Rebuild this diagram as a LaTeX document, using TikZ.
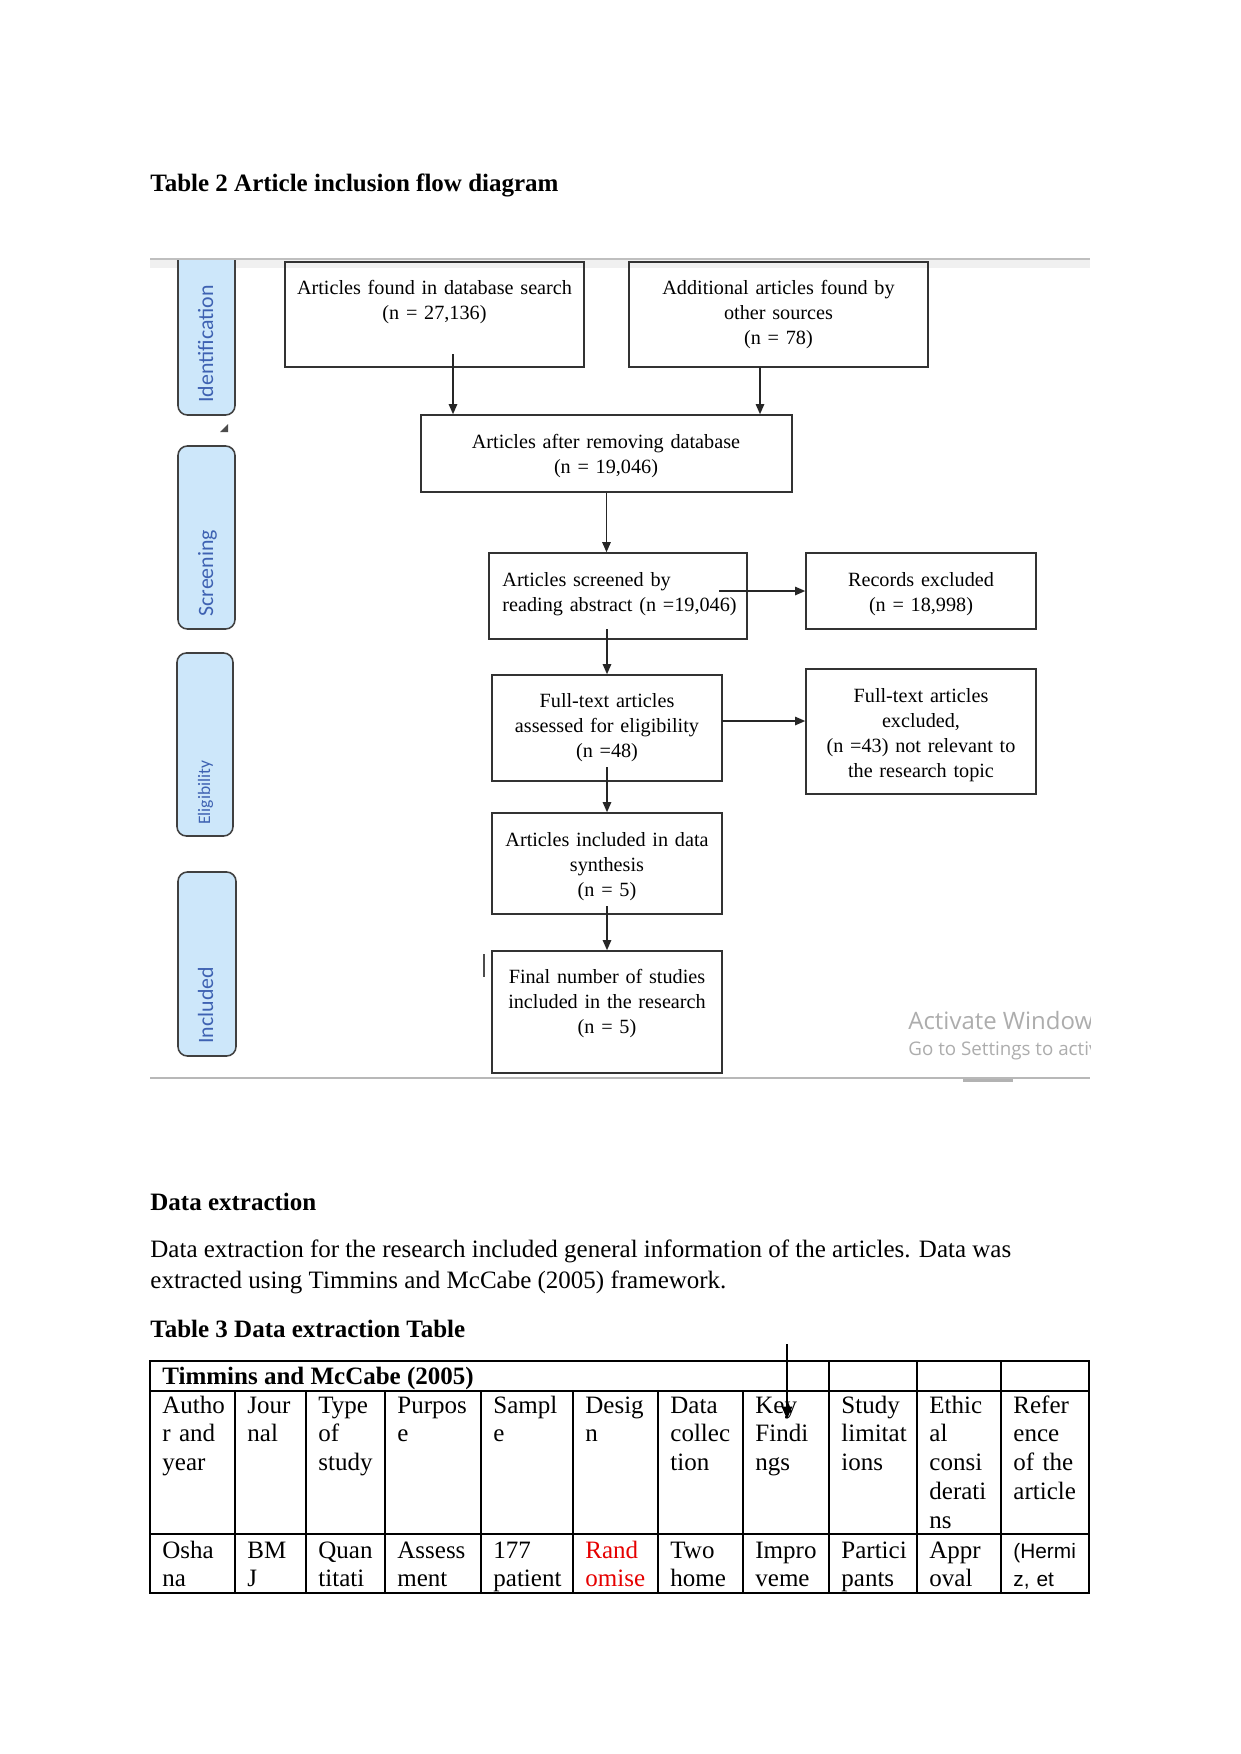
\documentclass[tikz,border=0pt]{standalone}
\usepackage{fontspec}
\setmainfont{Liberation Serif}
\newfontfamily\lanefont{Carlito}
\newfontfamily\winfont{Open Sans}
\newfontfamily\arialfont{Liberation Sans}
\usetikzlibrary{arrows.meta,fit,calc}
\definecolor{lanefill}{RGB}{205,231,250}
\definecolor{lanetext}{RGB}{62,98,178}
\definecolor{laneline}{RGB}{64,64,64}
\definecolor{boxline}{RGB}{50,50,50}
\definecolor{redtxt}{RGB}{230,0,0}
\begin{document}
\begin{tikzpicture}[x=0.48pt,y=-0.48pt,
  box/.style={draw=boxline, line width=0.75pt, inner sep=0pt},
  btxt/.style={font=\fontsize{9.7pt}{12.1pt}\selectfont, inner sep=0pt, text width=150pt, align=center, anchor=base},
  lane/.style={draw=laneline, line width=0.75pt, fill=lanefill, rounded corners=4.5pt, inner sep=0pt},
  lanetxt/.style={font=\lanefont\fontsize{10.5pt}{12pt}\selectfont, text=lanetext, rotate=90, anchor=base west, inner sep=0pt},
  arr/.style={draw=black!85, line width=0.7pt, -{Triangle[length=4.8pt,width=4pt]}},
  tl/.style={line width=0.7pt},
  ctxt/.style={font=\fontsize{12pt}{13.8pt}\selectfont, inner sep=0pt, anchor=base west, text width=60pt, align=left},
  ptxt/.style={font=\fontsize{12pt}{14pt}\selectfont, inner sep=0pt, anchor=base west},
  wtxt/.style={font=\winfont, text=black!32, inner sep=0pt, anchor=base west},
]
\useasboundingbox[fill=white] (0,0) rectangle (1241,1754);

% ---- heading
\node[ptxt, font=\fontsize{12pt}{14pt}\selectfont\bfseries] (title) at (150,191) {Table 2 Article inclusion flow diagram};

% ---- screenshot frame lines
\fill[black!6] (150,260) rectangle (1090,268);
\draw[black!25, line width=0.9pt] (150,259) -- (1090,259);
\draw[black!28, line width=0.9pt] (150,1078) -- (1090,1078);
\fill[black!30] (963,1079) rectangle (1013,1082);

% ---- lanes
\begin{scope}
  \clip (150,260) rectangle (300,430);
  \node[lane, fit={(178,230) (235,415)}] (lid) {};
\end{scope}
\node[lane, fit={(178,446) (235,629)}] (lscr) {};
\node[lane, fit={(177,653) (233,836)}] (lel) {};
\node[lane, fit={(178,872) (236,1056)}] (linc) {};
\node[lanetxt] (tid) at (213,403) {Identification};
\node[lanetxt] (tscr) at (213,617) {Screening};
\node[lanetxt, font=\lanefont\fontsize{8.4pt}{10pt}\selectfont] (tel) at (210,825) {Eligibility};
\node[lanetxt] (tinc) at (213,1044) {Included};
\fill[black!70] (228,424) -- (228,432) -- (220,432) -- cycle;

% ---- boxes
\node[box, fit={(285,262) (584,367)}] (b1) {};
\node[box, fit={(629,262) (928,367)}] (b2) {};
\node[box, fit={(421,415) (792,492)}] (b3) {};
\node[box, fit={(489,553) (747,639)}] (b4) {};
\node[box, fit={(806,553) (1036,629)}] (brec) {};
\node[box, fit={(492,675) (722,781)}] (b5) {};
\node[box, fit={(806,669) (1036,794)}] (bexc) {};
\node[box, fit={(492,813) (722,914)}] (b6) {};
\node[box, fit={(492,951) (722,1073)}] (b7) {};

\node[btxt] (t1) at (434.5,294) {Articles found in database search\\(n = 27,136)};
\node[btxt] (t2) at (778.5,294) {Additional articles found by\\other sources\\(n = 78)};
\node[btxt] (t3) at (606,448) {Articles after removing database\\(n = 19,046)};
\node[btxt, anchor=base west, align=left] (t4) at (502,586) {Articles screened by\\reading abstract (n =19,046)};
\node[btxt] (trec) at (921,586) {Records excluded\\(n = 18,998)};
\node[btxt] (t5) at (607,707) {Full-text articles\\assessed for eligibility\\(n =48)};
\node[btxt] (texc) at (921,702) {Full-text articles\\excluded,\\(n =43) not relevant to\\the research topic};
\node[btxt] (t6) at (607,846) {Articles included in data\\synthesis\\(n = 5)};
\node[btxt] (t7) at (607,983) {Final number of studies\\included in the research\\(n = 5)};

% ---- connectors
\coordinate (a1s) at (453,354);
\draw[arr] (a1s) -- (a1s |- b3.north);
\coordinate (a2s) at (760,367);
\draw[arr] (a2s) -- (a2s |- b3.north);
\draw[arr] (b3.south) -- (b3.south |- b4.north);
\coordinate (a4s) at (607,629);
\draw[arr] (a4s) -- (a4s |- b5.north);
\coordinate (a5s) at (719,591);
\draw[arr] (a5s) -- (a5s -| brec.west);
\coordinate (a6s) at (722,721);
\draw[arr] (a6s) -- (a6s -| bexc.west);
\coordinate (a7s) at (607,767);
\draw[arr] (a7s) -- (a7s |- b6.north);
\coordinate (a8s) at (607,906);
\draw[arr] (a8s) -- (a8s |- b7.north);

% text cursor
\draw[black!70, line width=0.5pt] (484,954) -- (484,977);

% watermark
\begin{scope}
  \clip (850,990) rectangle (1090,1070);
  \node[wtxt, font=\winfont\fontsize{11.5pt}{13pt}\selectfont] (w1) at (908,1029) {Activate Windows};
  \node[wtxt, font=\winfont\fontsize{9pt}{11pt}\selectfont] (w2) at (908,1055) {Go to Settings to activate Windows.};
\end{scope}

% ---- body text
\node[ptxt, font=\fontsize{12pt}{14pt}\selectfont\bfseries] (h2) at (150,1210) {Data extraction};
\node[ptxt] (p1) at (150,1257) {Data extraction for the research included general information of the articles. Data was};
\node[ptxt] (p2) at (150,1288) {extracted using Timmins and McCabe (2005) framework.};
\node[ptxt, font=\fontsize{12pt}{14pt}\selectfont\bfseries] (h3) at (150,1337) {Table 3 Data extraction Table};

% ---- table
\draw[tl] (150,1361) rectangle (1089,1593);
\draw[tl] (150,1391) -- (1089,1391);
\draw[tl] (150,1534) -- (1089,1534);
\foreach \x in {235,306,385,481,573,658,743} \draw[tl] (\x,1391) -- (\x,1593);
\foreach \x in {829,917,1001} \draw[tl] (\x,1361) -- (\x,1593);

\node[ptxt, font=\fontsize{12pt}{14pt}\selectfont\bfseries] (th) at (162,1384) {Timmins and McCabe (2005)};

\node[ctxt] (h1) at (162,1413) {Autho\\r and\\year};
\node[ctxt] (h2b) at (247,1413) {Jour\\nal};
\node[ctxt] (h3b) at (318,1413) {Type\\of\\study};
\node[ctxt] (h4) at (397,1413) {Purpos\\e};
\node[ctxt] (h5) at (493,1413) {Sampl\\e};
\node[ctxt] (h6) at (585,1413) {Desig\\n};
\node[ctxt] (h7) at (670,1413) {Data\\collec\\tion};
\node[ctxt] (h8) at (755,1413) {Key\\Findi\\ngs};
\node[ctxt] (h9) at (841,1413) {Study\\limitat\\ions};
\node[ctxt] (h10) at (929,1413) {Ethic\\al\\consi\\derati\\ns};
\node[ctxt] (h11) at (1013,1413) {Refer\\ence\\of the\\article};

\node[ctxt] (r1) at (162,1558) {Osha\\na};
\node[ctxt] (r2) at (247,1558) {BM\\J};
\node[ctxt] (r3) at (318,1558) {Quan\\titati};
\node[ctxt] (r4) at (397,1558) {Assess\\ment};
\node[ctxt] (r5) at (493,1558) {177\\patient};
\node[ctxt, text=redtxt] (r6) at (585,1558) {Rand\\omise};
\node[ctxt] (r7) at (670,1558) {Two\\home};
\node[ctxt] (r8) at (755,1558) {Impro\\veme};
\node[ctxt] (r9) at (841,1558) {Partici\\pants};
\node[ctxt] (r10) at (929,1558) {Appr\\oval};
\node[ctxt, font=\arialfont\fontsize{10pt}{13.8pt}\selectfont] (r11) at (1013,1558) {(Hermi\\z, et};

% arrow over table
\coordinate (a9s) at (787,1344);
\coordinate (a9e) at (787,1419);
\draw[black, line width=0.7pt, -{Triangle[length=6pt,width=5pt]}] (a9s) -- (a9e);
\end{tikzpicture}
\end{document}
